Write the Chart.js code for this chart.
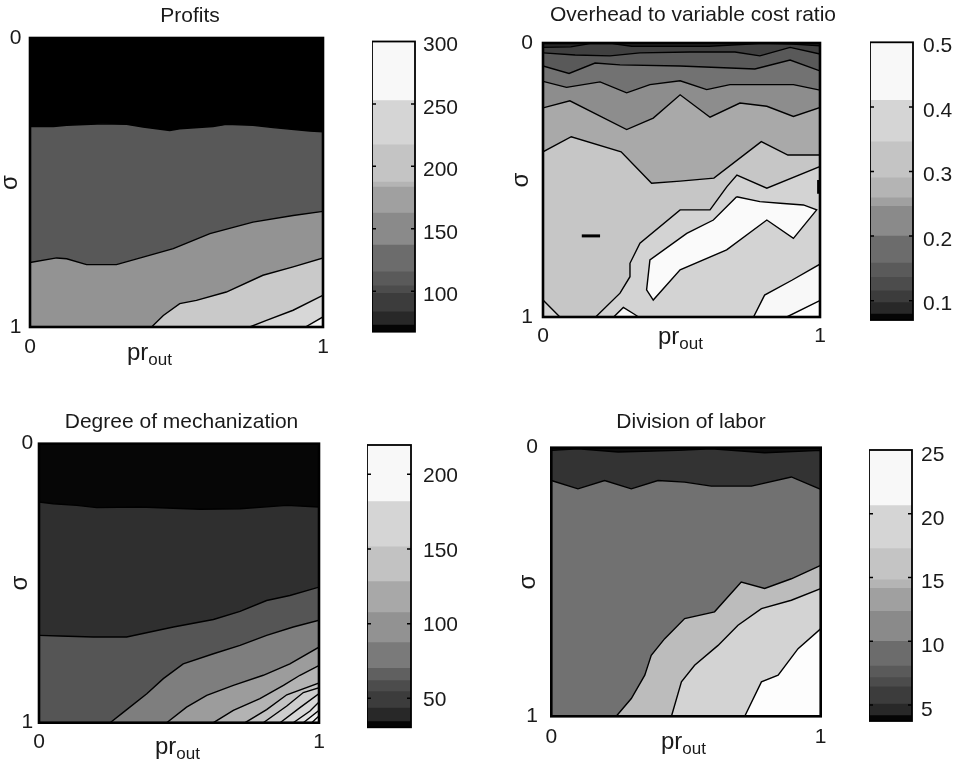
<!DOCTYPE html>
<html>
<head>
<meta charset="utf-8">
<script src="https://cdn.jsdelivr.net/npm/chart.js@4.4.0/dist/chart.umd.min.js"></script>
<style>
  html, body { margin: 0; padding: 0; background: #fff; }
  #page { position: relative; width: 956px; height: 764px; overflow: hidden; background: #fff; }
  #page canvas { position: absolute; }
</style>
</head>
<body>
<div id="page"></div>
<script>
// ---- Contour boundaries, [pr_out, sigma] (sigma 0 at top, 1 at bottom) ----

// Profits
const profitsC1 = [[0,.306],[.08,.306],[.125,.302],[.25,.297],[.33,.299],[.386,.308],[.477,.32],[.511,.314],[.625,.306],[.67,.299],[.761,.302],[.83,.31],[.955,.322],[1,.325]];
const profitsC2 = [[0,.777],[.091,.761],[.125,.764],[.193,.784],[.295,.784],[.386,.758],[.489,.729],[.614,.677],[.761,.637],[.898,.614],[1,.6]];
const profitsC3 = [[.415,1],[.455,.96],[.511,.919],[.568,.908],[.67,.879],[.795,.821],[.898,.792],[1,.761]];
const profitsC4 = [[.75,1],[.807,.977],[.898,.942],[1,.89]];
const profitsC5 = [[.94,1],[1,.965]];

// Overhead to variable cost ratio
const overheadT0 = [[0,.016],[.1,.014],[.17,.002],[.25,.002],[.32,.012],[.6,.012],[.78,.002],[.82,.002],[.9,.004],[1,.01]];
const overheadT1 = [[0,.036],[.116,.044],[.242,.047],[.35,.036],[.531,.033],[.693,.033],[.783,.047],[.892,.016],[1,.04]];
const overheadT2 = [[0,.084],[.094,.111],[.188,.073],[.278,.08],[.495,.084],[.675,.091],[.765,.095],[.892,.062],[1,.102]];
const overheadT3 = [[0,.14],[.085,.162],[.206,.142],[.302,.182],[.386,.152],[.495,.138],[.591,.17],[.675,.152],[.904,.152],[1,.172]];
const overheadT4 = [[0,.237],[.097,.211],[.302,.316],[.398,.274],[.495,.189],[.603,.271],[.711,.219],[.808,.231],[.904,.268],[1,.235]];
const overheadT5 = [[0,.397],[.102,.342],[.282,.397],[.392,.512],[.495,.504],[.617,.493],[.788,.36],[.884,.409],[1,.409]];
const overheadL6 = [[.19,1],[.278,.913],[.314,.853],[.314,.804],[.35,.731],[.495,.609],[.603,.609],[.664,.524],[.7,.482],[.808,.53],[1,.451]];
const overheadIsland = [[.699,.561],[.783,.579],[.856,.585],[.94,.591],[.988,.609],[.904,.713],[.808,.646],[.663,.755],[.495,.828],[.398,.938],[.374,.901],[.386,.792],[.519,.695],[.615,.646],[.699,.561]];
const overheadCornerR = [[.76,1],[.8,.92],[.9,.865],[1,.807]];
const overheadCornerR2 = [[.88,1],[1,.94]];
const overheadBump = [[.255,1],[.29,.965],[.33,.99],[.345,1]];
const overheadCornerL = [[0,.938],[.061,1],[0,1]];
const overheadDash = [[.14,.704],[.206,.704]];
const overheadEdge = [[.995,.5],[.995,.55]];

// Degree of mechanization
const mechC1 = [[0,.209],[.051,.215],[.135,.221],[.206,.229],[.361,.227],[.575,.235],[.718,.233],[.885,.221],[1,.227]];
const mechC2 = [[0,.687],[.075,.689],[.194,.693],[.313,.693],[.48,.657],[.623,.63],[.718,.601],[.813,.562],[.896,.544],[1,.514]];
const mechC3 = [[.254,1],[.302,.962],[.385,.896],[.444,.842],[.515,.789],[.623,.753],[.718,.723],[.813,.687],[.908,.657],[1,.633]];
const mechC4 = [[.456,1],[.527,.944],[.599,.902],[.694,.866],[.801,.83],[.896,.789],[1,.729]];
const mechC5 = [[.623,1],[.694,.956],[.789,.914],[.873,.866],[.932,.83],[1,.795]];
const mechC6 = [[.736,1],[.813,.953],[.885,.9],[1,.858]];
const mechC7 = [[.801,1],[.885,.94],[.944,.892],[1,.875]];
const mechC8 = [[.861,1],[.932,.946],[1,.896]];
const mechC9 = [[.908,1],[.968,.958],[1,.926]];
const mechC10 = [[.944,1],[1,.956]];
const mechC11 = [[.974,1],[1,.976]];

// Division of labor
const divC0 = [[0,.01],[.099,.004],[.248,.016],[.47,.01],[.594,.004],[.792,.019],[1,.01]];
const divC1 = [[0,.122],[.099,.153],[.198,.122],[.297,.153],[.396,.122],[.495,.128],[.594,.143],[.743,.143],[.891,.109],[1,.155]];
const divC2 = [[.241,1],[.297,.934],[.347,.847],[.371,.773],[.421,.711],[.495,.636],[.606,.611],[.705,.5],[.792,.524],[.891,.488],[1,.438]];
const divC3 = [[.446,1],[.483,.872],[.532,.81],[.619,.736],[.693,.661],[.78,.599],[.891,.568],[1,.525]];
const divC4 = [[.718,1],[.78,.872],[.842,.847],[.916,.748],[1,.674]];

// axis ticks of the contour panels
const axisTicks = [0, 1];

// ---- Colorbars: band edges (bottom to top) and tick labels ----
const profitsEdges = [67.5, 72.9, 83.5, 98.2, 104.3, 115.5, 136.8, 162.6, 183.4, 187.4, 217.2, 252.6, 300];
const profitsTicks = [100, 150, 200, 250, 300];
const overheadEdges = [0.07, 0.079, 0.097, 0.115, 0.136, 0.159, 0.2, 0.246, 0.259, 0.29, 0.346, 0.41, 0.5];
const overheadTicks = [0.1, 0.2, 0.3, 0.4, 0.5];
const mechEdges = [30.6, 34.4, 43.4, 54.5, 61.9, 70.1, 87.3, 107.4, 128.1, 151.5, 181.7, 219.6];
const mechTicks = [50, 100, 150, 200];
const divEdges = [3.75, 4.17, 5.08, 6.42, 7.15, 8.06, 10.0, 12.34, 14.16, 14.81, 17.27, 20.65, 25];
const divTicks = [5, 10, 15, 20, 25];

// grey shades (styles)
const bandGreys12 = ['#050505','#282828','#3c3c3c','#4c4c4c','#5a5a5a','#6c6c6c','#8a8a8a','#a0a0a0','#b4b4b4','#c4c4c4','#d5d5d5','#f8f8f8'];
const bandGreys11 = ['#050505','#282828','#3c3c3c','#4c4c4c','#606060','#7a7a7a','#929292','#a8a8a8','#c2c2c2','#d5d5d5','#f8f8f8'];

const FONT = '"Liberation Sans", Arial, Helvetica, sans-serif';
const INK = '#1a1a1a';
Chart.defaults.font.family = FONT;
Chart.defaults.color = INK;

const page = document.getElementById('page');

function addCanvas(box) {
    const c = document.createElement('canvas');
    c.width = box.width;
    c.height = box.height;
    c.style.left = box.left + 'px';
    c.style.top = box.top + 'px';
    c.style.width = box.width + 'px';
    c.style.height = box.height + 'px';
    page.appendChild(c);
    return c;
}

// region under a contour that runs to the right edge
function below(pts) {
    const shape = pts.slice();
    shape.push([1, 1]);
    if (pts[0][1] !== 1) shape.push([0, 1]);
    return shape;
}
const FULL = [[0, 0], [1, 0], [1, 1], [0, 1]];

// black box round the plot area, plus inner tick marks for colorbars
const framePlugin = {
    id: 'frame',
    afterDatasetsDraw(chart, args, opts) {
        const {ctx, chartArea: a} = chart;
        ctx.save();
        ctx.strokeStyle = '#000';
        ctx.lineWidth = opts.width;
        ctx.strokeRect(a.left, a.top, a.right - a.left, a.bottom - a.top);
        if (opts.marks) {
            const y = chart.scales.y;
            ctx.lineWidth = 1.5;
            y.ticks.forEach(t => {
                const py = y.getPixelForValue(t.value);
                if (py <= a.top + 2 || py >= a.bottom - 2) return;
                ctx.beginPath();
                ctx.moveTo(a.left, py); ctx.lineTo(a.left + opts.marks, py);
                ctx.moveTo(a.right - opts.marks, py); ctx.lineTo(a.right, py);
                ctx.stroke();
            });
        }
        ctx.restore();
    }
};

// x label with subscript (pr_out)
const subLabelPlugin = {
    id: 'subLabel',
    afterDraw(chart, args, o) {
        const ctx = chart.ctx;
        ctx.save();
        ctx.fillStyle = INK;
        ctx.textAlign = 'left';
        ctx.textBaseline = 'alphabetic';
        ctx.font = '24px ' + FONT;
        ctx.fillText(o.text, o.x, o.y);
        const w = ctx.measureText(o.text).width;
        ctx.font = '17px ' + FONT;
        ctx.fillText(o.sub, o.x + w, o.y + 5);
        ctx.restore();
    }
};

function contourChart(p) {
    const canvas = addCanvas(p.box);
    // first dataset is painted last, so reverse the bottom-to-top layer list
    const datasets = p.layers.map(l => ({
        data: l.pts.map(q => ({x: q[0], y: q[1]})),
        fill: l.color ? 'shape' : false,
        backgroundColor: l.color || 'rgba(0,0,0,0)',
        borderColor: '#000',
        borderWidth: l.lw === undefined ? 1.4 : l.lw,
        pointRadius: 0,
        tension: 0,
        yAxisID: 'y'
    })).reverse();

    new Chart(canvas, {
        type: 'line',
        data: {datasets},
        options: {
            responsive: false,
            animation: false,
            events: [],
            layout: {padding: 0},
            plugins: {
                legend: {display: false},
                tooltip: {enabled: false},
                filler: {drawTime: 'beforeDatasetDraw'},
                title: {
                    display: true,
                    text: p.title,
                    color: INK,
                    font: {size: 21, weight: 'normal'},
                    padding: p.titlePad
                },
                frame: {width: 2.6},
                subLabel: {text: 'pr', sub: 'out', x: p.labelX, y: p.labelY}
            },
            scales: {
                x: {
                    type: 'linear', min: 0, max: 1,
                    afterBuildTicks: s => { s.ticks = axisTicks.map(v => ({value: v})); },
                    afterFit: s => { s.height = p.xAxisH; },
                    grid: {display: false, drawTicks: false},
                    border: {display: false},
                    ticks: {padding: p.xTickPad, font: {size: 21}, maxRotation: 0, color: INK}
                },
                y: {
                    type: 'linear', min: 0, max: 1, reverse: true,
                    afterBuildTicks: s => { s.ticks = axisTicks.map(v => ({value: v})); },
                    afterFit: s => { s.width = p.yAxisW; },
                    grid: {display: false, drawTicks: false},
                    border: {display: false},
                    ticks: {padding: p.yTickPad, font: {size: 21}, color: INK},
                    title: {
                        display: true, text: 'σ', color: INK,
                        font: {size: 24, lineHeight: 0.9},
                        padding: {top: p.sigmaPad, bottom: 0}
                    }
                },
                pad: {
                    type: 'linear', position: 'right', display: true,
                    grid: {display: false, drawTicks: false},
                    border: {display: false},
                    ticks: {display: false},
                    afterFit: s => { s.width = p.padR; }
                }
            }
        },
        plugins: [framePlugin, subLabelPlugin]
    });
}

function colorbarChart(c) {
    const canvas = addCanvas(c.box);
    const datasets = c.colors.map((col, i) => ({
        data: [[c.edges[i], c.edges[i + 1]]],
        backgroundColor: col,
        borderWidth: 0,
        barPercentage: 1,
        categoryPercentage: 1,
        grouped: false
    }));
    new Chart(canvas, {
        type: 'bar',
        data: {labels: [''], datasets},
        options: {
            responsive: false,
            animation: false,
            events: [],
            layout: {padding: {top: c.padTop, bottom: c.padBottom, left: 0, right: 0}},
            plugins: {
                legend: {display: false},
                tooltip: {enabled: false},
                frame: {width: 1.8, marks: 4}
            },
            scales: {
                x: {display: false},
                y: {
                    position: 'right',
                    min: c.edges[0],
                    max: c.edges[c.edges.length - 1],
                    afterBuildTicks: s => { s.ticks = c.ticks.map(v => ({value: v})); },
                    afterFit: s => { s.width = c.axisW; },
                    grid: {display: false, drawTicks: false},
                    border: {display: false},
                    ticks: {
                        padding: c.tickPad,
                        labelOffset: c.labelOffset,
                        font: {size: 21},
                        color: INK,
                        callback: v => String(v)
                    }
                }
            }
        },
        plugins: [framePlugin]
    });
}

// ---- Panels ----
contourChart({
    box: {left: 0, top: 0, width: 380, height: 382},
    title: 'Profits', titlePad: {top: 3.4, bottom: 9.4},
    yAxisW: 30, padR: 57, xAxisH: 55, yTickPad: 8.5, xTickPad: 7.4, sigmaPad: 0,
    labelX: 127, labelY: 360,
    layers: [
        {pts: FULL, color: '#000000', lw: 0},
        {pts: below(profitsC1), color: '#585858'},
        {pts: below(profitsC2), color: '#939393'},
        {pts: below(profitsC3), color: '#c9c9c9'},
        {pts: below(profitsC4), color: '#d7d7d7'},
        {pts: below(profitsC5), color: '#f3f3f3'}
    ]
});
colorbarChart({
    box: {left: 372, top: 0, width: 90, height: 382},
    edges: profitsEdges, ticks: profitsTicks, colors: bandGreys12,
    axisW: 47, padTop: 41.5, padBottom: 50.3, tickPad: 8, labelOffset: 4
});

contourChart({
    box: {left: 503, top: 0, width: 380, height: 382},
    title: 'Overhead to variable cost ratio', titlePad: {top: 2.4, bottom: 15.4},
    yAxisW: 40, padR: 63, xAxisH: 65, yTickPad: 10, xTickPad: 7, sigmaPad: 7.2,
    labelX: 155, labelY: 344,
    layers: [
        {pts: FULL, color: '#262626', lw: 0},
        {pts: below(overheadT0), color: '#404040'},
        {pts: below(overheadT1), color: '#595959'},
        {pts: below(overheadT2), color: '#727272'},
        {pts: below(overheadT3), color: '#8d8d8d'},
        {pts: below(overheadT4), color: '#a9a9a9'},
        {pts: below(overheadT5), color: '#c6c6c6'},
        {pts: below(overheadL6), color: '#d3d3d3'},
        {pts: overheadCornerL, color: '#d3d3d3'},
        {pts: overheadBump, color: '#fafafa'},
        {pts: overheadIsland, color: '#fafafa'},
        {pts: below(overheadCornerR), color: '#f8f8f8'},
        {pts: below(overheadCornerR2), color: '#fdfdfd'},
        {pts: overheadDash, lw: 3},
        {pts: overheadEdge, lw: 3}
    ]
});
colorbarChart({
    box: {left: 870, top: 0, width: 86, height: 382},
    edges: overheadEdges, ticks: overheadTicks, colors: bandGreys12,
    axisW: 43, padTop: 42.3, padBottom: 62, tickPad: 10, labelOffset: 4
});

contourChart({
    box: {left: 0, top: 382, width: 363, height: 382},
    title: 'Degree of mechanization', titlePad: {top: 27.4, bottom: 9.1},
    yAxisW: 39, padR: 44, xAxisH: 41.3, yTickPad: 5.7, xTickPad: 6.7, sigmaPad: 9.2,
    labelX: 155, labelY: 371.7,
    layers: [
        {pts: FULL, color: '#060606', lw: 0},
        {pts: below(mechC1), color: '#2f2f2f'},
        {pts: below(mechC2), color: '#555555'},
        {pts: below(mechC3), color: '#7e7e7e'},
        {pts: below(mechC4), color: '#9c9c9c'},
        {pts: below(mechC5), color: '#b3b3b3'},
        {pts: below(mechC6), color: '#c3c3c3'},
        {pts: below(mechC7), color: '#cdcdcd'},
        {pts: below(mechC8), color: '#d7d7d7'},
        {pts: below(mechC9), color: '#e1e1e1'},
        {pts: below(mechC10), color: '#ebebeb'},
        {pts: below(mechC11), color: '#f7f7f7'}
    ]
});
colorbarChart({
    box: {left: 367, top: 382, width: 90, height: 382},
    edges: mechEdges, ticks: mechTicks, colors: bandGreys11,
    axisW: 46, padTop: 63, padBottom: 36.7, tickPad: 12, labelOffset: 2
});

contourChart({
    box: {left: 500, top: 382, width: 382, height: 382},
    title: 'Division of labor', titlePad: {top: 27.4, bottom: 13.1},
    yAxisW: 51.3, padR: 61.3, xAxisH: 47.7, yTickPad: 13.3, xTickPad: 8.1, sigmaPad: 17.2,
    labelX: 161, labelY: 366.7,
    layers: [
        {pts: FULL, color: '#0c0c0c', lw: 0},
        {pts: below(divC0), color: '#333333'},
        {pts: below(divC1), color: '#717171'},
        {pts: below(divC2), color: '#bcbcbc'},
        {pts: below(divC3), color: '#d3d3d3'},
        {pts: below(divC4), color: '#fdfdfd'}
    ]
});
colorbarChart({
    box: {left: 869, top: 382, width: 87, height: 382},
    edges: divEdges, ticks: divTicks, colors: bandGreys12,
    axisW: 44, padTop: 68, padBottom: 43, tickPad: 9, labelOffset: 5
});
</script>
</body>
</html>
